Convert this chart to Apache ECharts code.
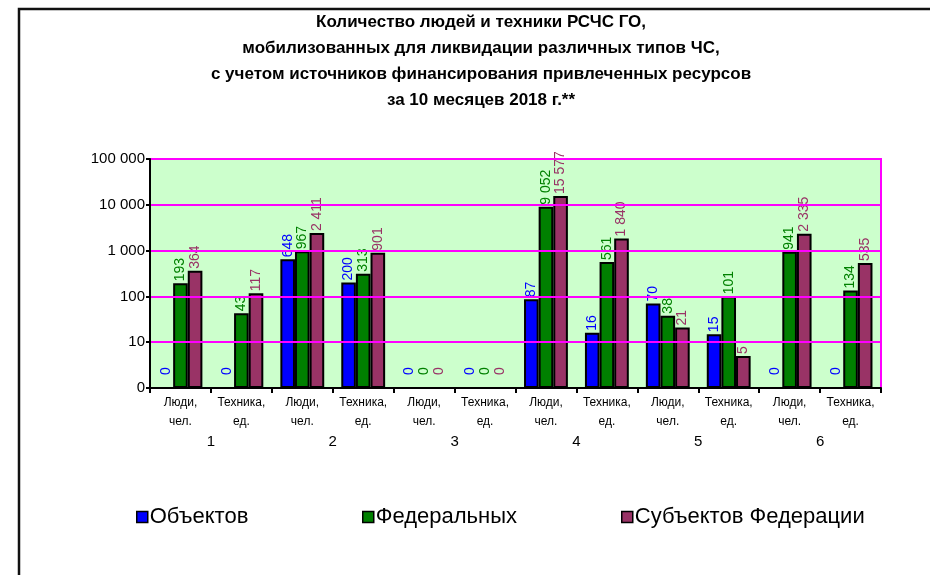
<!DOCTYPE html>
<html>
<head>
<meta charset="utf-8">
<script src="https://cdn.jsdelivr.net/npm/echarts@6/dist/echarts.min.js"></script>
<style>
html, body { margin: 0; padding: 0; background: #fff; }
#chart { width: 930px; height: 575px; }
</style>
</head>
<body>
<div id="chart"></div>
<script>
// категории по оси X
var categories = ['Люди,\nчел.', 'Техника,\nед.', 'Люди,\nчел.', 'Техника,\nед.', 'Люди,\nчел.', 'Техника,\nед.',
	'Люди,\nчел.', 'Техника,\nед.', 'Люди,\nчел.', 'Техника,\nед.', 'Люди,\nчел.', 'Техника,\nед.'];
// номера групп под подписями
var groups = ['1', '2', '3', '4', '5', '6'];
// ряды
var objektov = [0, 0, 648, 200, 0, 0, 87, 16, 70, 15, 0, 0];
var federalnyh = [193, 43, 967, 313, 0, 0, 9052, 561, 38, 101, 941, 134];
var subektov = [364, 117, 2411, 901, 0, 0, 15577, 1840, 21, 5, 2335, 535];
var seriesNames = ['Объектов', 'Федеральных', 'Субъектов Федерации'];

var FONT = 'Liberation Sans, Arial, sans-serif';

function fmt(v) {
	return String(v).replace(/\B(?=(\d{3})+(?!\d))/g, ' ');
}

// ноль на лог. шкале рисуем как 1 (подпись "0")
function toData(arr) {
	return arr.map(function (v) {
		if (v === 0) {
			return { value: 1, raw: 0, label: { distance: 12 } };
		}
		return { value: v, raw: v };
	});
}

function makeSeries(name, arr, color) {
	return {
		name: name,
		type: 'bar',
		barGap: '0%',
		barCategoryGap: '28%',
		data: toData(arr),
		itemStyle: { color: color, borderColor: '#000', borderWidth: 2 },
		label: {
			show: true,
			position: 'top',
			rotate: 90,
			align: 'left',
			verticalAlign: 'middle',
			distance: 2,
			color: color,
			fontFamily: FONT,
			fontSize: 14,
			formatter: function (p) { return fmt(p.data.raw); }
		}
	};
}

var colors = ['#0000FF', '#008000', '#993366'];
var legendLeft = [131, 357, 616];

var myChart = echarts.init(document.getElementById('chart'));
var option = {
	animation: false,
	title: {
		text: 'Количество людей и техники РСЧС ГО,\nмобилизованных для ликвидации различных типов ЧС,\nс учетом источников финансирования привлеченных ресурсов\nза 10 месяцев 2018 г.**',
		left: 476,
		top: 4,
		textAlign: 'center',
		textStyle: { fontFamily: FONT, fontSize: 17, fontWeight: 'bold', color: '#000', lineHeight: 26 }
	},
	legend: seriesNames.map(function (n, i) {
		return {
			data: [n],
			left: legendLeft[i],
			top: 501,
			itemWidth: 11,
			itemHeight: 11,
			icon: 'rect',
			selectedMode: false,
			itemStyle: { borderColor: '#000', borderWidth: 1.5 },
			textStyle: { fontFamily: FONT, fontSize: 22, color: '#000', padding: [0, 0, 0, -3] }
		};
	}),
	graphic: [{
		type: 'rect',
		shape: { x: 19, y: 9, width: 1000, height: 1000 },
		style: { fill: 'none', stroke: '#111', lineWidth: 2.5 },
		z: 100
	}],
	grid: {
		left: 150, right: 49, top: 159, bottom: 187,
		show: true,
		backgroundColor: '#CCFFCC',
		borderColor: '#FF00FF',
		borderWidth: 2
	},
	xAxis: [{
		type: 'category',
		data: categories,
		axisLine: { lineStyle: { color: '#000', width: 2 } },
		axisTick: { show: true, length: 5, lineStyle: { color: '#000', width: 2 } },
		axisLabel: { interval: 0, color: '#000', fontFamily: FONT, fontSize: 12, lineHeight: 19, margin: 5 },
		z: 10
	}, {
		type: 'category',
		data: groups,
		position: 'bottom',
		offset: 38,
		axisLine: { show: false },
		axisTick: { show: false },
		axisLabel: { color: '#000', fontFamily: FONT, fontSize: 15 }
	}],
	yAxis: {
		type: 'log',
		logBase: 10,
		min: 1,
		max: 100000,
		axisLine: { show: true, lineStyle: { color: '#000', width: 2 } },
		axisTick: { show: true, length: 4, lineStyle: { color: '#000', width: 2 } },
		splitLine: { show: true, lineStyle: { color: '#FF00FF', width: 2 } },
		axisLabel: {
			color: '#000', fontFamily: FONT, fontSize: 15, margin: 5,
			formatter: function (v) { return v === 1 ? '0' : fmt(v); }
		},
		z: 10
	},
	series: seriesNames.map(function (n, i) {
		return makeSeries(n, [objektov, federalnyh, subektov][i], colors[i]);
	})
};
myChart.setOption(option);
</script>
</body>
</html>
